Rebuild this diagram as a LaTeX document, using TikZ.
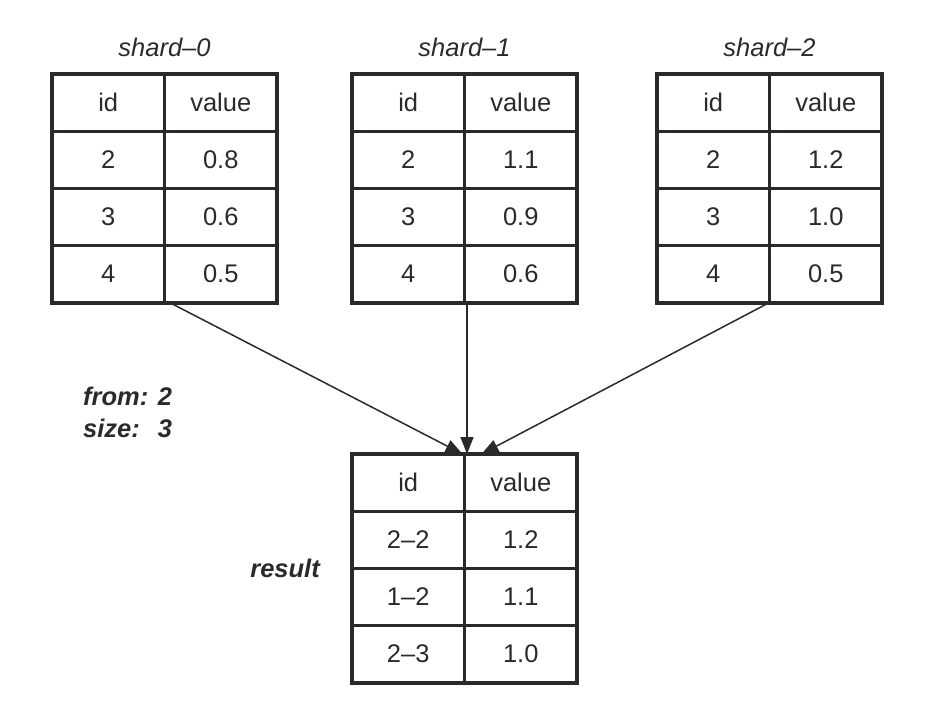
\documentclass[tikz,border=0pt]{standalone}
\usepackage{fontspec}
\setmainfont{Liberation Sans}
\usetikzlibrary{positioning,arrows.meta}
\definecolor{ink}{RGB}{40,42,46}

\newcommand{\tablefont}{\fontsize{25.5}{32}\selectfont}

% one table: name, top left corner, rows id/value
\newcommand{\datatable}[3]{%
  \node[cell, anchor=north west] (#1-0-id) at (#2) {id};
  \node[cell, right=0pt of #1-0-id] (#1-0-val) {value};
  \foreach \rid/\rval [count=\n] in {#3} {
    \pgfmathtruncatemacro{\prev}{\n-1}
    \node[cell, below=0pt of #1-\prev-id] (#1-\n-id) {\rid};
    \node[cell, right=0pt of #1-\n-id] (#1-\n-val) {\rval};
  }%
}

\begin{document}
\begin{tikzpicture}[x=1pt,y=-1pt,font=\tablefont,
    cell/.style={draw=ink, line width=3.2pt, minimum width=112.5pt, minimum height=57.25pt,
      inner sep=0pt, outer sep=0pt, text=ink, text height=17pt, text depth=0pt},
    title/.style={inner sep=0pt, text=ink, font=\tablefont\itshape},
    note/.style={inner sep=0pt, text=ink, font=\tablefont\bfseries\itshape},
    feed/.style={draw=ink, line width=1.5pt, -{Triangle[length=17pt,width=13pt]}}]

    \useasboundingbox (0,0) rectangle (930,718);

    \datatable{S0}{52,74}{2/0.8, 3/0.6, 4/0.5}
    \datatable{S1}{352,74}{2/1.1, 3/0.9, 4/0.6}
    \datatable{S2}{657,74}{2/1.2, 3/1.0, 4/0.5}
    \datatable{R}{352,454}{2--2/1.2, 1--2/1.1, 2--3/1.0}

    %------------------------------------------------

    \node[title, above=17pt of S0-0-id.north east] (S0name) {shard--0};
    \node[title, above=17pt of S1-0-id.north east] (S1name) {shard--1};
    \node[title, above=17pt of S2-0-id.north east] (S2name) {shard--2};

    \node[note, anchor=base west] (query) at (83,405)
    {\begin{tabular}[t]{@{}l@{ }l@{}} from: & 2 \\ size: & 3 \end{tabular}};

    \node[note, left=32pt of R-1-id.south west] (Rname) {result};

    %------------------------------------------------

    \draw[feed] ([xshift=6pt]S0-3-id.south east) -- ([xshift=-2pt]R-0-id.north east);
    \draw[feed] ([xshift=2.5pt]S1-3-val.south west) -- ([xshift=2.5pt]R-0-val.north west);
    \draw[feed] ([xshift=-1pt]S2-3-val.south west) -- ([xshift=17pt]R-0-val.north west);
\end{tikzpicture}
\end{document}
